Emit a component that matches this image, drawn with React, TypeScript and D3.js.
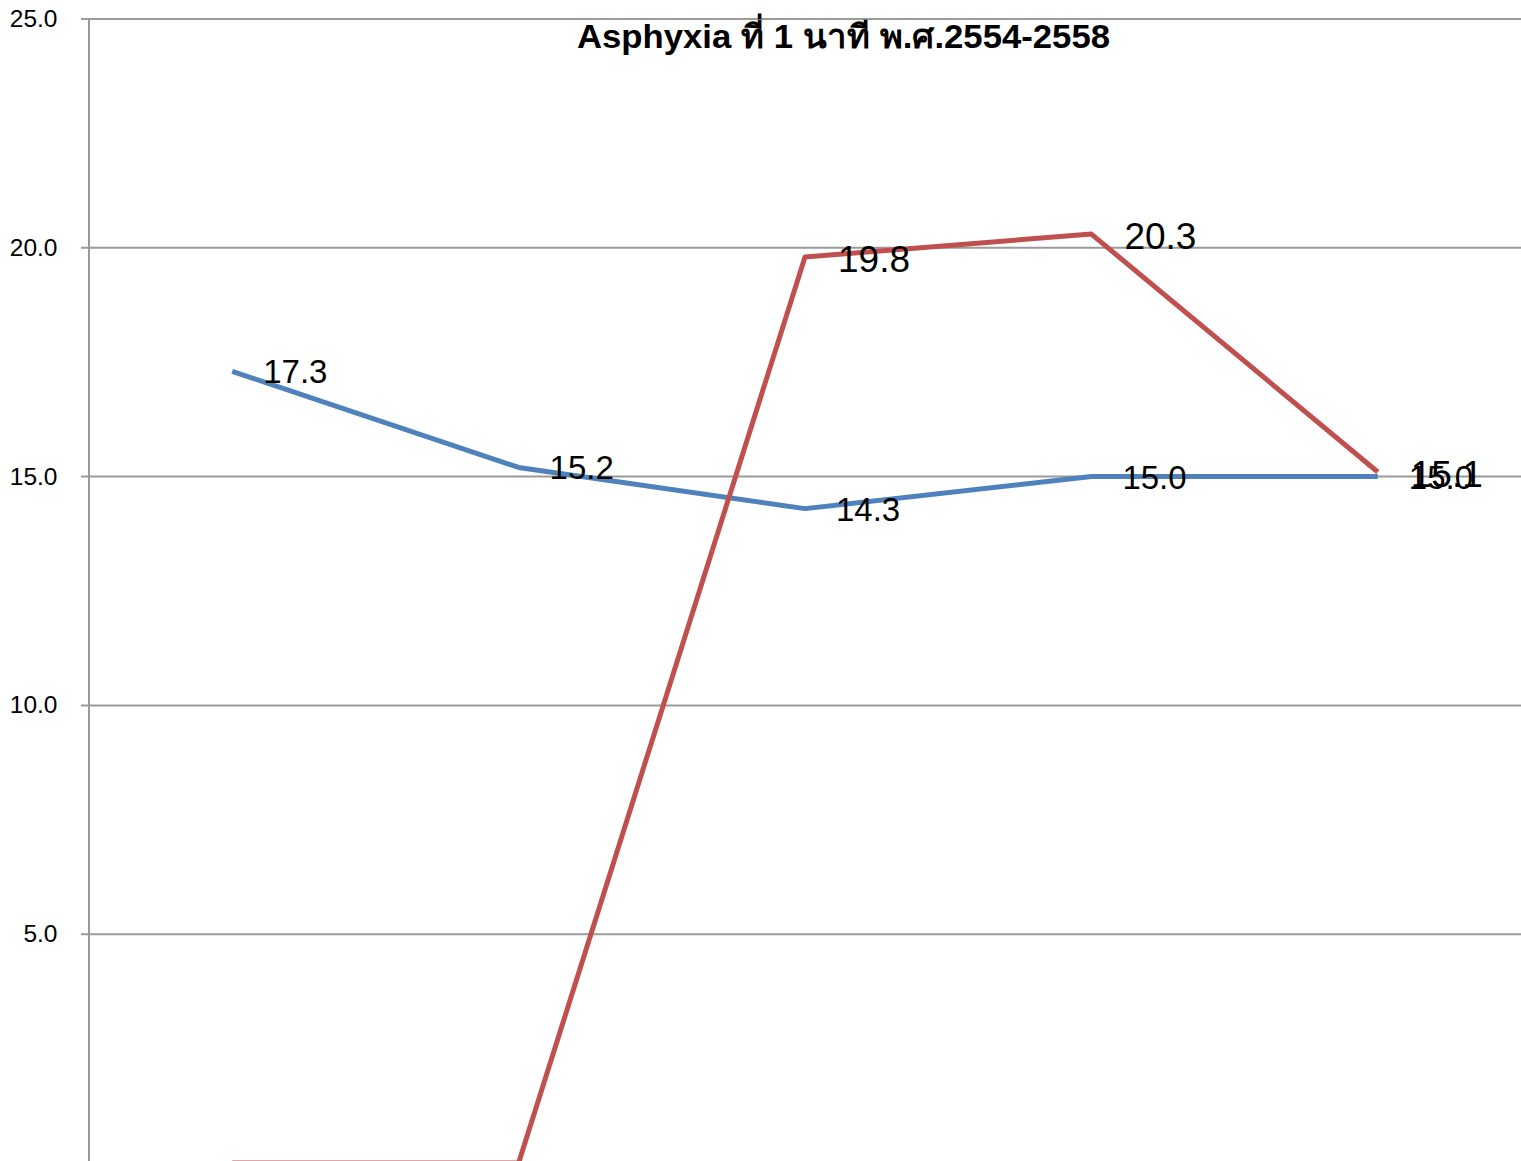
import React from "react";
import * as d3 from "d3";

const categories = ["2554", "2555", "2556", "2557", "2558"];
const seriesBlue = [17.3, 15.2, 14.3, 15.0, 15.0];
const seriesRed = [0, 0, 19.8, 20.3, 15.1];
const yTicks = [5, 10, 15, 20, 25];
const title = "Asphyxia ที่ 1 นาที พ.ศ.2554-2558";

const W = 1521;
const H = 1161;
const FONT = "'Liberation Sans', Arial, 'Noto Sans', sans-serif";

export default function App() {
  const left = 89;
  const right = 1521;
  const x = d3.scaleBand<string>().domain(categories).range([left, right]).padding(0);
  const y = d3.scaleLinear().domain([0, 25]).range([1163, 19]);
  const cx = (c: string) => (x(c) as number) + x.bandwidth() / 2;
  const line = d3
    .line<number>()
    .x((_, i) => cx(categories[i]))
    .y((d) => y(d));

  return (
    <div style={{ position: "absolute", left: 0, top: 0 }}>
      <svg width={W} height={H} style={{ display: "block", background: "#fff" }}>
        {yTicks.map((t) => (
          <g key={t}>
            <line x1={81} x2={right} y1={y(t)} y2={y(t)} stroke="#9a9a9a" strokeWidth={2} />
            <text
              x={57.5}
              y={y(t) + 8}
              textAnchor="end"
              fontFamily={FONT}
              fontSize={24.5}
              fill="#000"
            >
              {t.toFixed(1)}
            </text>
          </g>
        ))}
        <line x1={left} x2={left} y1={y(25)} y2={H} stroke="#9a9a9a" strokeWidth={2} />
        <path d={line(seriesBlue) || ""} fill="none" stroke="#4F81BD" strokeWidth={5} strokeLinejoin="round" />
        <path d={line(seriesRed) || ""} fill="none" stroke="#C0504D" strokeWidth={5} strokeLinejoin="round" />
        {seriesBlue.map((v, i) => (
          <text
            key={"b" + i}
            x={cx(categories[i]) + 31}
            y={y(v) + 12}
            fontFamily={FONT}
            fontSize={33}
            fill="#000"
          >
            {v.toFixed(1)}
          </text>
        ))}
        {seriesRed.map((v, i) =>
          v > 0 ? (
            <text
              key={"r" + i}
              x={cx(categories[i]) + 33}
              y={y(v) + 15}
              fontFamily={FONT}
              fontSize={37}
              fill="#000"
            >
              {v.toFixed(1)}
            </text>
          ) : null
        )}
        <text
          x={843.5}
          y={48}
          textAnchor="middle"
          fontFamily={FONT}
          fontWeight="bold"
          fontSize={33}
          textLength={533}
          lengthAdjust="spacingAndGlyphs"
          fill="#000"
        >
          {title}
        </text>
      </svg>
    </div>
  );
}
